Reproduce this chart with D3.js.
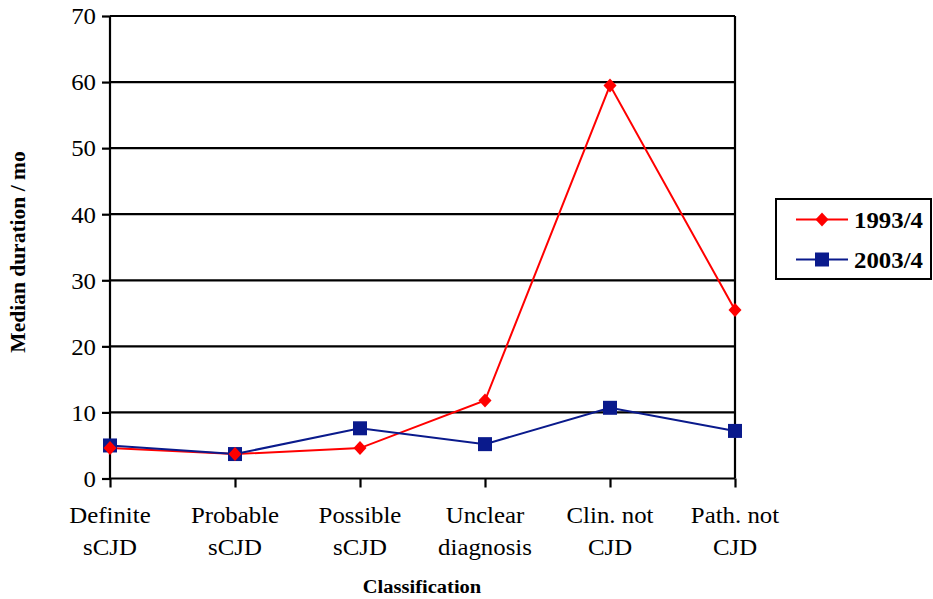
<!DOCTYPE html>
<html><head><meta charset="utf-8">
<script src="https://cdn.jsdelivr.net/npm/d3@7"></script>
<style>
body{margin:0;background:#fff}
svg{display:block}
svg text{font-family:"Liberation Serif","Times New Roman",Times,"DejaVu Serif",serif !important;fill:#000}
</style>
</head><body>
<svg id="c" width="933" height="599"></svg>
<script>
const categories = [["Definite","sCJD"],["Probable","sCJD"],["Possible","sCJD"],["Unclear","diagnosis"],["Clin. not","CJD"],["Path. not","CJD"]];
const series1993 = [4.6, 3.7, 4.6, 11.8, 59.5, 25.5];
const series2003 = [5.0, 3.7, 7.6, 5.2, 10.7, 7.2];
const yTicks = [0,10,20,30,40,50,60,70];
const seriesNames = ["1993/4","2003/4"];

(function(){
const svg = d3.select("#c");
const pL = 110, pR = 735, pT = 16, pB = 478.5;
const x = d3.scalePoint().domain(d3.range(categories.length)).range([pL, pR]);
const y = d3.scaleLinear().domain([0,70]).range([pB, pT]);

svg.append("g").selectAll("line").data(yTicks.filter(d=>d>0)).join("line")
  .attr("x1", pL).attr("x2", pR).attr("y1", d=>y(d)).attr("y2", d=>y(d))
  .attr("stroke","#000").attr("stroke-width",2.2);
svg.append("line").attr("x1",pR).attr("x2",pR).attr("y1",pT).attr("y2",pB).attr("stroke","#000").attr("stroke-width",2.2);

const ya = svg.append("g").attr("transform",`translate(${pL},0)`)
  .call(d3.axisLeft(y).tickValues(yTicks).tickSize(8).tickPadding(6));
ya.select(".domain").attr("stroke","#000").attr("stroke-width",2.2).attr("d",`M0,${pT}V${pB}`);
ya.selectAll(".tick line").attr("stroke","#000").attr("stroke-width",2.2);
ya.selectAll(".tick text").attr("font-size",23).attr("fill","#000").attr("dy","0.34em")
  .attr("transform","scale(1.08,1)").attr("x",-14/1.08);

const xa = svg.append("g").attr("transform",`translate(0,${pB})`)
  .call(d3.axisBottom(x).tickSize(9).tickFormat(""));
xa.select(".domain").attr("stroke","#000").attr("stroke-width",2.2).attr("d",`M${pL},0H${pR}`);
xa.selectAll(".tick line").attr("stroke","#000").attr("stroke-width",2.2);
const lab = svg.append("g").selectAll("g").data(categories).join("g")
  .attr("transform",(d,i)=>`translate(${x(i)},0) scale(1.08,1)`);
lab.append("text").attr("text-anchor","middle").attr("font-size",23).attr("y",523).text(d=>d[0]);
lab.append("text").attr("text-anchor","middle").attr("font-size",23).attr("y",555).text(d=>d[1]);

svg.append("text").attr("transform","translate(422,593) scale(1.08,1)").attr("text-anchor","middle")
  .attr("font-weight","bold").attr("font-size",19).text("Classification");
svg.append("text").attr("transform","translate(25,252) rotate(-90)").attr("text-anchor","middle")
  .attr("font-weight","bold").attr("font-size",21.5).text("Median duration / mo");

const line = d3.line().x((d,i)=>x(i)).y(d=>y(d));
const colors = ["#ff0000","#0a1a8c"];
[series1993, series2003].forEach((s,k)=>{
  svg.append("path").datum(s).attr("d",line).attr("fill","none").attr("stroke",colors[k]).attr("stroke-width",2);
});
svg.append("g").selectAll("path").data(series2003).join("path")
  .attr("d", d3.symbol(d3.symbolSquare, 196)).attr("transform",(d,i)=>`translate(${x(i)},${y(d)})`).attr("fill",colors[1]);
svg.append("g").selectAll("path").data(series1993).join("path")
  .attr("d","M0,-7L6.5,0L0,7L-6.5,0Z").attr("transform",(d,i)=>`translate(${x(i)},${y(d)})`).attr("fill",colors[0]);

const lg = svg.append("g");
lg.append("rect").attr("x",776).attr("y",199).attr("width",155).attr("height",80).attr("fill","#fff").attr("stroke","#000").attr("stroke-width",2);
seriesNames.forEach((n,k)=>{
  const yy = 219.5 + k*40;
  lg.append("line").attr("x1",796).attr("x2",848).attr("y1",yy).attr("y2",yy).attr("stroke",colors[k]).attr("stroke-width",2);
  if(k===0) lg.append("path").attr("d","M0,-7L6.5,0L0,7L-6.5,0Z").attr("transform",`translate(822,${yy})`).attr("fill",colors[0]);
  else lg.append("path").attr("d",d3.symbol(d3.symbolSquare,196)).attr("transform",`translate(822,${yy})`).attr("fill",colors[1]);
  lg.append("text").attr("transform",`translate(854,${yy}) scale(1.08,1)`).attr("dy","0.35em").attr("font-weight","bold").attr("font-size",23).text(n);
});
})();
</script>
</body></html>
